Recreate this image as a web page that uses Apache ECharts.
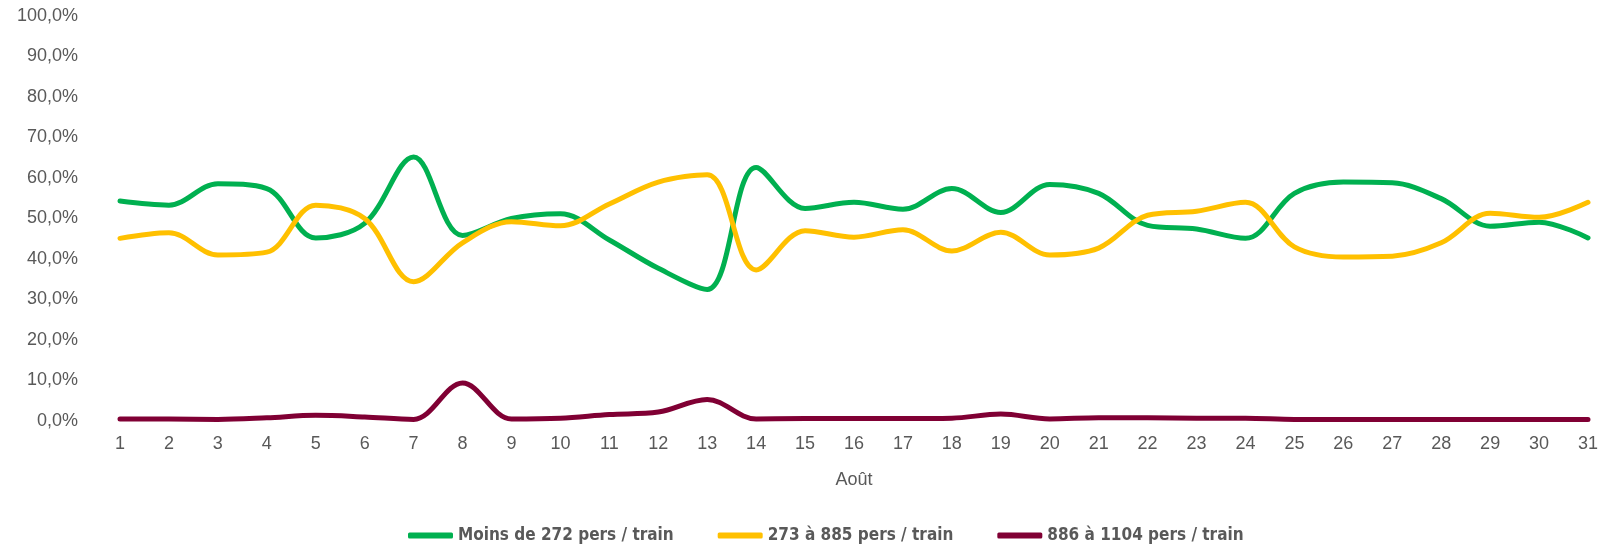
<!DOCTYPE html>
<html>
<head>
<meta charset="utf-8">
<script src="https://cdn.jsdelivr.net/npm/echarts@6/dist/echarts.min.js"></script>
<style>
  html, body { margin: 0; padding: 0; background: #fff; }
  #chart { width: 1605px; height: 546px; }
</style>
</head>
<body>
<div id="chart"></div>
<script>
var days = [];
for (var d = 1; d <= 31; d++) days.push(String(d));

var seriesNames = ['Moins de 272 pers / train', '273 à 885 pers / train', '886 à 1104 pers / train'];
var seriesColors = ['#00B050', '#FFC000', '#800034'];

var petits = [54.3, 53.3, 58.6, 57.4, 45.2, 48.8, 65.2, 45.8, 50.0, 51.2,
  44.7, 37.7, 32.5, 62.6, 52.5, 54.0, 52.3, 57.4, 51.5, 58.4,
  56.2, 48.3, 47.4, 45.1, 56.2, 59.0, 58.8, 54.9, 48.1, 49.1, 45.2];
var moyens = [45.1, 46.5, 41.0, 41.7, 53.3, 50.0, 34.4, 44.0, 49.2, 48.2,
  53.6, 59.0, 60.8, 37.3, 47.0, 45.4, 47.2, 42.0, 46.6, 41.0,
  42.7, 50.8, 51.8, 54.0, 43.0, 40.5, 40.7, 44.0, 51.3, 50.3, 54.0];
var grands = [0.5, 0.5, 0.4, 0.8, 1.4, 1.0, 0.4, 9.4, 0.5, 0.7,
  1.6, 2.2, 5.3, 0.5, 0.6, 0.6, 0.6, 0.7, 1.7, 0.5,
  0.8, 0.8, 0.7, 0.7, 0.4, 0.4, 0.4, 0.4, 0.4, 0.4, 0.4];

var chart = echarts.init(document.getElementById('chart'));

var allData = [petits, moyens, grands];
var series = [];
for (var i = 0; i < allData.length; i++) {
  series.push({
    name: seriesNames[i],
    type: 'line',
    data: allData[i],
    smooth: 0.35,
    showSymbol: false,
    symbol: 'none',
    lineStyle: { width: 5, color: seriesColors[i], cap: 'round' },
    itemStyle: { color: seriesColors[i] }
  });
}

chart.setOption({
  animation: false,
  backgroundColor: '#fff',
  color: seriesColors,
  grid: { left: 120, right: 17, top: 16, bottom: 125 },
  xAxis: {
    type: 'category',
    data: days,
    boundaryGap: false,
    name: 'Août',
    nameLocation: 'middle',
    nameGap: 50,
    nameTextStyle: { color: '#595959', fontSize: 18, fontFamily: 'Liberation Sans' },
    axisLine: { show: false },
    axisTick: { show: false },
    axisLabel: { color: '#595959', fontSize: 18, fontFamily: 'Liberation Sans', margin: 14, interval: 0 }
  },
  yAxis: {
    type: 'value',
    min: 0,
    max: 100,
    interval: 10,
    axisLine: { show: false },
    axisTick: { show: false },
    splitLine: { show: false },
    axisLabel: {
      color: '#595959',
      fontSize: 18,
      fontFamily: 'Liberation Sans',
      margin: 42,
      formatter: function (v) { return v + ',0%'; }
    }
  },
  legend: {
    top: 522,
    left: 403,
    icon: 'roundRect',
    itemWidth: 45,
    itemHeight: 6,
    itemGap: 44,
    textStyle: {
      color: '#595959', fontSize: 17, fontWeight: 'bold',
      fontFamily: '"DejaVu Sans Condensed", "Liberation Sans"'
    },
    data: seriesNames
  },
  series: series
});
</script>
</body>
</html>
